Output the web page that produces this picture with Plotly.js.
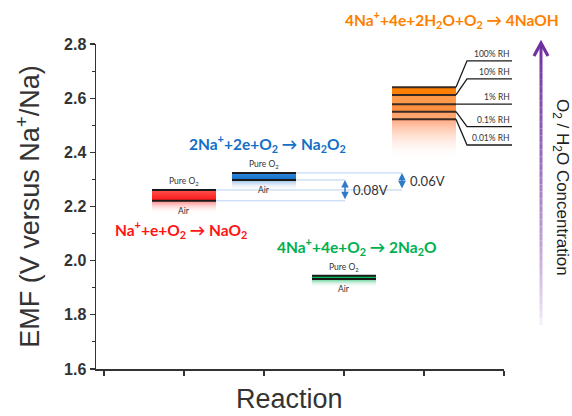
<!DOCTYPE html>
<html><head><meta charset="utf-8">
<script src="https://cdn.plot.ly/plotly-3.0.1.min.js"></script>
<style>html,body{margin:0;padding:0;background:#fff;} #chart{width:572px;height:416px;}</style>
</head><body><div id="chart"></div>
<script>
// ---- data ----
const reactions = ['NaO2', 'Na2O2', 'Na2O', 'NaOH'];
const reactionX = [1, 2, 3, 4];
const equations = [
  'Na<sup>+</sup>+e+O<sub>2</sub> → NaO<sub>2</sub>',
  '2Na<sup>+</sup>+2e+O<sub>2</sub> → Na<sub>2</sub>O<sub>2</sub>',
  '4Na<sup>+</sup>+4e+O<sub>2</sub> → 2Na<sub>2</sub>O',
  '4Na<sup>+</sup>+4e+2H<sub>2</sub>O+O<sub>2</sub> → 4NaOH'
];
const emfPureO2 = [2.261, 2.324, 1.944];
const emfAir = [2.221, 2.298, 1.932];
const rhLabels = ['100% RH', '10% RH', '1% RH', '0.1% RH', '0.01% RH'];
const emfNaOH = [2.640, 2.612, 2.578, 2.550, 2.522];
const yTickVals = [1.6, 1.8, 2.0, 2.2, 2.4, 2.6, 2.8];
const xTickVals = [0, 1, 2, 3, 4, 5];

// ---- style ----
const W = 572, H = 416, ML = 96, MR = 68, MT = 44, MB = 47;
const PW = W - ML - MR, PH = H - MT - MB;
const px = p => (p - ML) / PW;          // pixel -> paper x
const py = p => (H - MB - p) / PH;      // pixel -> paper y
const halfW = 0.4;
const mainColors = ['#ff1414', '#1270c8', '#00b050', '#ff7f00'];
const bandTop = ['#ff5050', '#2f86dc', '#10c060'];
const belowColors = ['rgba(255,90,90,0.75)', 'rgba(120,165,220,0.8)', 'rgba(40,190,110,0.8)'];
const belowDepth = [0.048, 0.038, 0.03];
const naohBands = ['#ff8000', '#ff9a4a', '#ff9040', '#ffa46c'];
const lineCol = '#1a1a1a';
const thinCol = '#b7d0ee';
const arrowCol = '#2e7ac6';
const labelFont = 'Lato, "Noto Sans", sans-serif';
const axisFont = 'Liberation Sans, Arial, sans-serif';

const traces = [];
function rect(x0, x1, yb, yt, cs) {
  traces.push({
    type: 'scatter', mode: 'lines', x: [x0, x1, x1, x0, x0], y: [yt, yt, yb, yb, yt],
    fill: 'toself', line: {width: 0}, fillcolor: cs[cs.length - 1][1],
    fillgradient: {type: 'vertical', colorscale: cs},
    hoverinfo: 'skip', showlegend: false
  });
}
function hline(x0, x1, y, color, width) {
  traces.push({type: 'scatter', mode: 'lines', x: [x0, x1], y: [y, y],
    line: {color: color, width: width}, hoverinfo: 'skip', showlegend: false});
}

// thin guide lines (drawn first, behind)
const arrowX = [3.0125, 3.725];
hline(reactionX[0] + halfW, arrowX[1], emfPureO2[0], thinCol, 1);
hline(reactionX[0] + halfW, arrowX[0], emfAir[0], thinCol, 1);
hline(reactionX[1] + halfW, arrowX[1], emfPureO2[1], thinCol, 1);
hline(reactionX[1] + halfW, arrowX[0], emfAir[1], thinCol, 1);

// O2 reactions
for (let i = 0; i < 3; i++) {
  const x0 = reactionX[i] - halfW, x1 = reactionX[i] + halfW;
  rect(x0, x1, emfAir[i] - belowDepth[i], emfAir[i], [[0, 'rgba(255,255,255,0)'], [1, belowColors[i]]]);
  rect(x0, x1, emfAir[i], emfPureO2[i], [[0, mainColors[i]], [1, bandTop[i]]]);
  hline(x0, x1, emfPureO2[i], lineCol, 2);
  hline(x0, x1, emfAir[i], lineCol, 2);
}
// NaOH
{
  const x0 = reactionX[3] - halfW, x1 = reactionX[3] + halfW;
  const last = emfNaOH[emfNaOH.length - 1];
  rect(x0, x1, last - 0.15, last, [[0, 'rgba(255,255,255,0)'], [1, '#ffa880']]);
  for (let k = 0; k < emfNaOH.length - 1; k++) {
    rect(x0, x1, emfNaOH[k + 1], emfNaOH[k], [[0, naohBands[k]], [1, naohBands[k]]]);
  }
  for (let k = 0; k < emfNaOH.length; k++) hline(x0, x1, emfNaOH[k], '#3a2a22', 2);
}

// ---- annotations ----
const ann = [];
const eqPos = [[181, 229], [267, 143], [356, 246], [452, 20]];
for (let i = 0; i < 4; i++) {
  ann.push({xref: 'paper', yref: 'paper', x: px(eqPos[i][0]), y: py(eqPos[i][1]),
    text: equations[i], showarrow: false, xanchor: 'center', yanchor: 'middle',
    font: {family: labelFont, size: 15.5, color: mainColors[i], weight: 'bold'}});
}
for (let i = 0; i < 3; i++) {
  ann.push({x: reactionX[i], y: emfPureO2[i], yshift: 8, text: 'Pure O<sub>2</sub>', showarrow: false,
    font: {family: labelFont, size: 8.5, color: '#333'}});
  ann.push({x: reactionX[i], y: emfAir[i], yshift: -10, text: 'Air', showarrow: false,
    font: {family: labelFont, size: 8.5, color: '#333'}});
}
// difference arrows
const diffs = [
  {x: arrowX[0], a: emfAir[0], b: emfAir[1]},
  {x: arrowX[1], a: emfPureO2[0], b: emfPureO2[1]}
];
diffs.forEach(d => {
  ann.push({x: d.x, y: d.b, ax: d.x, ay: d.a, axref: 'x', ayref: 'y', text: '', showarrow: true,
    arrowside: 'end+start', arrowhead: 2, arrowsize: 1, arrowwidth: 1.5, arrowcolor: arrowCol,
    standoff: 0, startstandoff: 0});
  ann.push({x: d.x, y: (d.a + d.b) / 2, xanchor: 'left', xshift: 6, showarrow: false,
    text: (d.b - d.a).toFixed(2) + 'V', font: {family: labelFont, size: 13, color: '#333'}});
});

// RH labels and leaders
const shapes = [];
const rhLineY = [2.738, 2.671, 2.578, 2.495, 2.427];
const xBarEnd = px(ML + (reactionX[3] + halfW + 0.1) * 80);
const xBend = px(467), xEnd = px(512);
for (let k = 0; k < rhLabels.length; k++) {
  shapes.push({type: 'path', xref: 'paper', yref: 'y',
    path: `M ${xBarEnd},${emfNaOH[k]} L ${xBend},${rhLineY[k]} L ${xEnd},${rhLineY[k]}`,
    line: {color: '#1a1a1a', width: 1.3}});
  ann.push({xref: 'paper', yref: 'y', x: xEnd, y: rhLineY[k], yshift: 7, xanchor: 'right',
    text: rhLabels[k], showarrow: false, font: {family: labelFont, size: 8.5, color: '#333'}});
}

// purple concentration arrow with gradient
const ax0 = px(541), yBot = 325, yTop = 44, nSeg = 40;
for (let s = 0; s < nSeg; s++) {
  const t0 = s / nSeg, t1 = (s + 1) / nSeg;
  const t = (t0 + t1) / 2;
  const f = Math.pow(t, 0.7);
  const r = Math.round(250 + (112 - 250) * f);
  const g = Math.round(248 + (48 - 248) * f);
  const b = Math.round(252 + (160 - 252) * f);
  shapes.push({type: 'line', xref: 'paper', yref: 'paper', x0: ax0, x1: ax0,
    y0: py(yBot - (yBot - yTop) * t0), y1: py(yBot - (yBot - yTop) * t1),
    line: {color: `rgb(${r},${g},${b})`, width: 3}});
}
shapes.push({type: 'path', xref: 'paper', yref: 'paper',
  path: `M ${px(534)},${py(56)} L ${ax0},${py(43)} L ${px(548)},${py(56)}`,
  line: {color: '#7030a0', width: 3.2}});
ann.push({xref: 'paper', yref: 'paper', x: px(562), y: py(187), textangle: 90, xshift: 12,
  text: 'O<sub>2</sub> / H<sub>2</sub>O Concentration', showarrow: false,
  font: {family: axisFont, size: 17, color: '#222'}});

// x axis title (placed as annotation to match the reference position)
ann.push({xref: 'paper', yref: 'paper', x: px(289), y: py(399), yanchor: 'middle',
  text: 'Reaction', showarrow: false, font: {family: axisFont, size: 27, color: '#333'}});

const layout = {
  width: W, height: H,
  margin: {l: ML, r: MR, t: MT, b: MB, pad: 0},
  paper_bgcolor: '#fff', plot_bgcolor: '#fff',
  showlegend: false,
  xaxis: {range: [-0.1, 5], tickvals: xTickVals, showticklabels: false, ticks: 'outside',
    ticklen: 5, tickwidth: 1.3, tickcolor: '#333', showline: true, linecolor: '#333', linewidth: 1.5,
    showgrid: false, zeroline: false},
  yaxis: {range: [1.6, 2.8], tickvals: yTickVals, tickformat: '.1f', ticks: 'outside',
    ticklen: 5, tickwidth: 1.3, tickcolor: '#333', showline: true, linecolor: '#333', linewidth: 1.5,
    showgrid: false, zeroline: false,
    minor: {dtick: 0.1, ticks: 'outside', ticklen: 3, tickcolor: '#333', tickwidth: 1},
    tickfont: {family: axisFont, size: 16, color: '#333', weight: 'bold'},
    title: {text: 'EMF (V versus Na<sup>+</sup>/Na)', font: {family: axisFont, size: 27, color: '#333'}, standoff: 16}},
  annotations: ann,
  shapes: shapes
};
Plotly.newPlot('chart', traces, layout, {staticPlot: true, displayModeBar: false});
</script>
</body></html>
